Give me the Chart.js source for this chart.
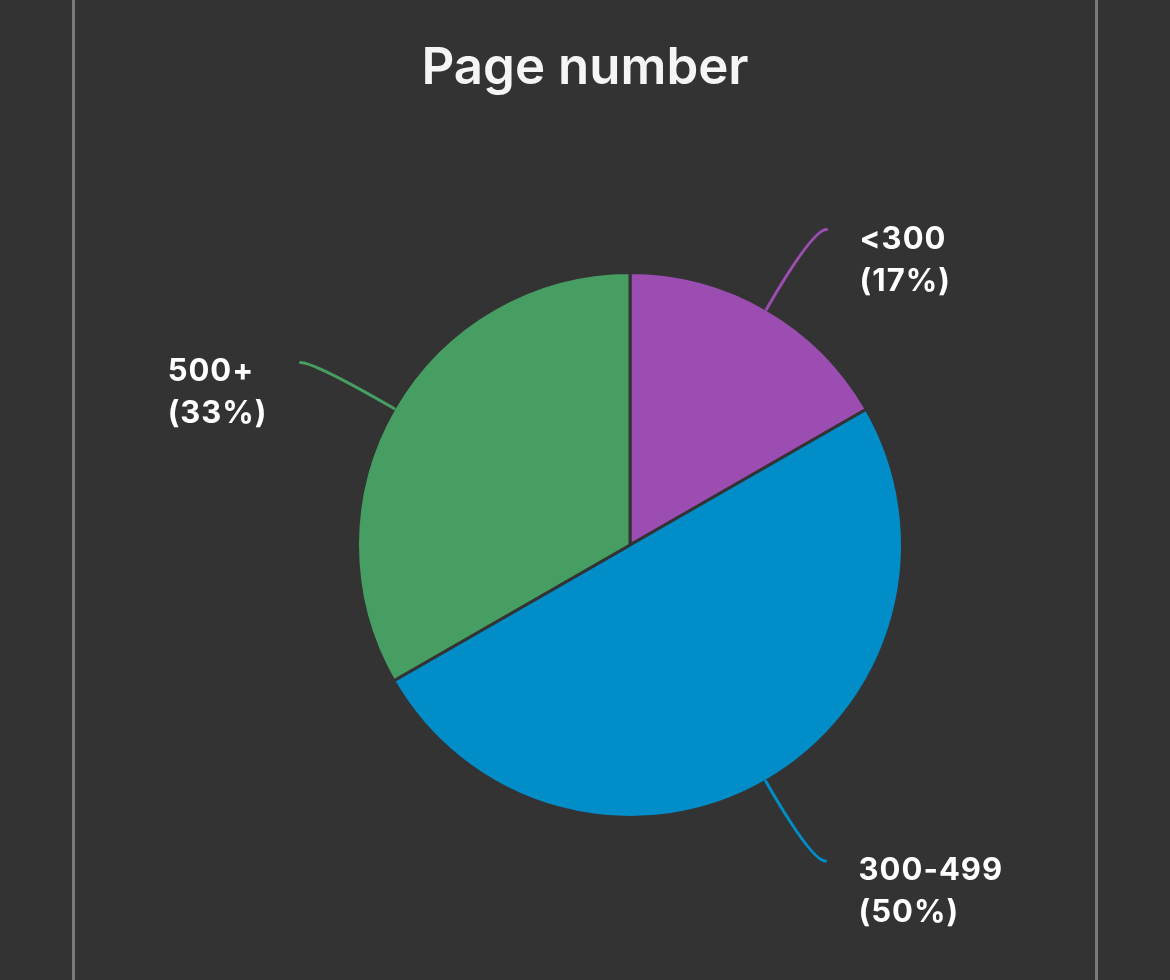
<!DOCTYPE html>
<html>
<head>
<meta charset="utf-8">
<script src="https://cdn.jsdelivr.net/npm/chart.js@4"></script>
<style>
  html, body { margin: 0; padding: 0; background: #333333; }
  #wrap { width: 1170px; height: 980px; position: relative; }
</style>
</head>
<body>
<div id="wrap"><canvas id="chart"></canvas></div>
<script>
// chart data
const categories = ["<300", "300-499", "500+"];
const shares = [16.7, 50, 33.3];
const sliceColors = ["#9c4db1", "#008dc8", "#479e63"];
const chartTitle = "Page number";

// background, side rules and title
const frame = {
  id: "frame",
  beforeDraw(chart) {
    const ctx = chart.ctx;
    ctx.save();
    ctx.fillStyle = "#333333";
    ctx.fillRect(0, 0, chart.width, chart.height);
    ctx.fillStyle = "#7a7a7a";
    ctx.fillRect(72, 0, 3, chart.height);
    ctx.fillRect(1095, 0, 3, chart.height);
    ctx.fillStyle = "#f5f5f5";
    ctx.font = "600 51px Inter";
    ctx.textAlign = "center";
    ctx.textBaseline = "alphabetic";
    ctx.fillText(chartTitle, 585, 84);
    ctx.restore();
  },
};

// curved leader lines with two-line labels
const leaders = {
  id: "leaders",
  afterDatasetsDraw(chart) {
    const ctx = chart.ctx;
    const meta = chart.getDatasetMeta(0);
    const total = shares.reduce((a, b) => a + b, 0);
    ctx.save();
    meta.data.forEach((arc, i) => {
      const { x, y, startAngle, endAngle, outerRadius } = arc.getProps(
        ["x", "y", "startAngle", "endAngle", "outerRadius"], true);
      const mid = (startAngle + endAngle) / 2;
      const cos = Math.cos(mid), sin = Math.sin(mid);
      const right = cos >= 0;
      const sx = x + cos * outerRadius, sy = y + sin * outerRadius;
      const cx = x + cos * (outerRadius + 92), cy = y + sin * (outerRadius + 92);
      const ex = cx + (right ? 14 : -14), ey = cy;

      ctx.strokeStyle = sliceColors[i];
      ctx.lineWidth = 3;
      ctx.lineCap = "round";
      ctx.beginPath();
      ctx.moveTo(sx, sy);
      ctx.quadraticCurveTo(cx, cy, ex, ey);
      ctx.stroke();

      const pct = Math.round(shares[i] / total * 100);
      const lines = [categories[i], "(" + pct + "%)"];
      ctx.font = "700 31px Inter";
      ctx.letterSpacing = "1px";
      ctx.fillStyle = "#ffffff";
      ctx.textBaseline = "alphabetic";
      ctx.textAlign = "left";
      const w = Math.max(...lines.map(t => ctx.measureText(t).width));
      const tx = right ? ex + 33 : ex - 33 - w;
      lines.forEach((t, k) => ctx.fillText(t, tx, ey + 19 + k * 42));
    });
    ctx.restore();
  },
};

new Chart(document.getElementById("chart"), {
  type: "pie",
  data: {
    labels: categories,
    datasets: [{
      data: shares,
      backgroundColor: sliceColors,
      borderColor: "#333333",
      borderWidth: 3,
      hoverOffset: 0,
    }],
  },
  options: {
    responsive: true,
    maintainAspectRatio: false,
    animation: false,
    events: [],
    layout: { padding: { left: 356, right: 266, top: 271, bottom: 161 } },
    plugins: {
      legend: { display: false },
      title: { display: false },
      tooltip: { enabled: false },
    },
  },
  plugins: [frame, leaders],
});
</script>
</body>
</html>
